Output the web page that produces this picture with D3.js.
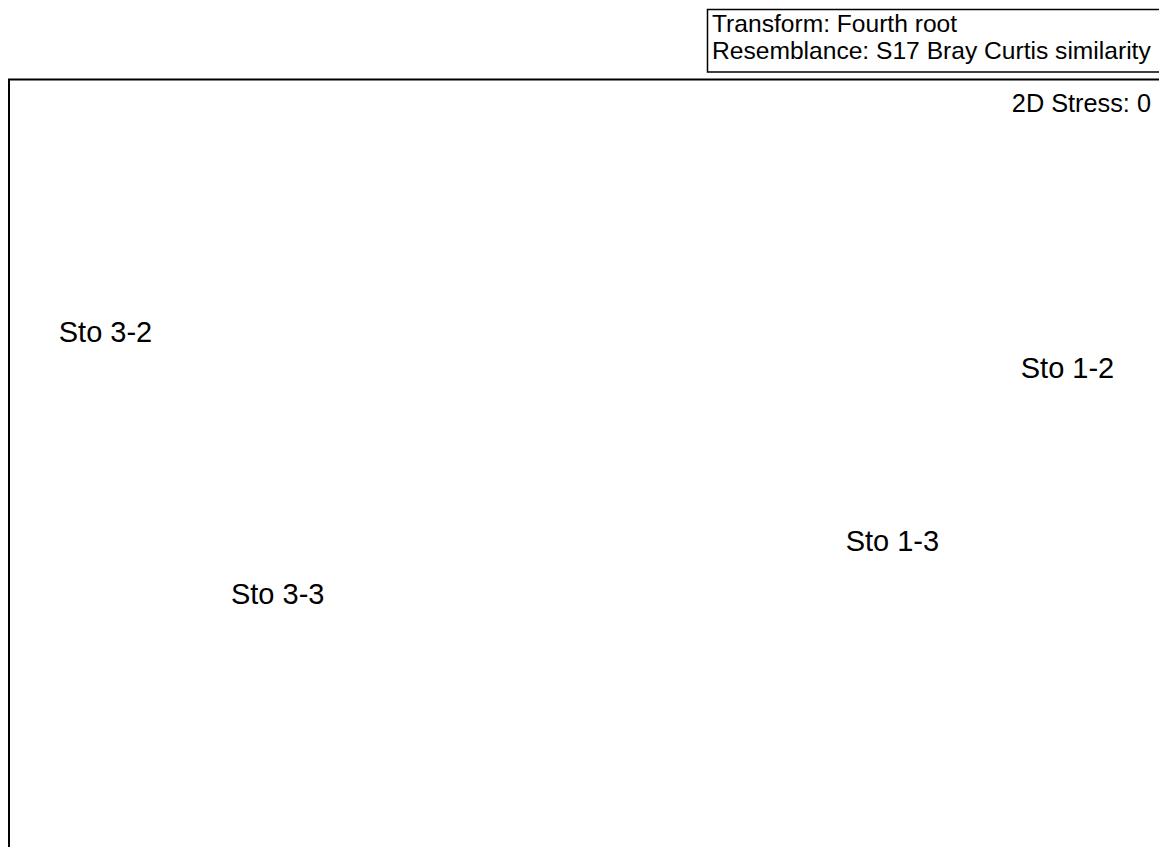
<!DOCTYPE html>
<html>
<head>
<meta charset="utf-8">
<script src="https://cdn.jsdelivr.net/npm/d3@7"></script>
<style>
  html, body { margin: 0; padding: 0; background: #fff; overflow: hidden; }
  svg { display: block; font-family: "Liberation Sans", Arial, sans-serif; }
</style>
</head>
<body>
<svg id="chart" width="1159" height="847"></svg>
<script>
// Sample labels and their 2D MDS coordinates (arbitrary units)
const samples = ["Sto 3-2", "Sto 1-2", "Sto 1-3", "Sto 3-3"];
const mdsX = [-1.00, 1.00, 0.636, -0.642];
const mdsY = [1.00, 0.725, -0.595, -1.00];
const infoLines = ["Transform: Fourth root", "Resemblance: S17 Bray Curtis similarity"];
const stressLabel = "2D Stress: 0";

const svg = d3.select("#chart");

const x = d3.scaleLinear().domain([-1, 1]).range([105.5, 1067.5]);
const y = d3.scaleLinear().domain([-1, 1]).range([594, 332]);

// plot frame (extends beyond the viewport on right and bottom)
svg.append("rect")
  .attr("x", 9).attr("y", 79.5)
  .attr("width", 1300).attr("height", 900)
  .attr("fill", "none").attr("stroke", "#000").attr("stroke-width", 2);

// info box
svg.append("rect")
  .attr("x", 707.5).attr("y", 9.5)
  .attr("width", 500).attr("height", 62.5)
  .attr("fill", "#fff").attr("stroke", "#000").attr("stroke-width", 1.5);

svg.append("g").selectAll("text")
  .data(infoLines).join("text")
  .attr("x", 712)
  .attr("y", (d, i) => 31.5 + i * 27)
  .attr("font-size", 24.6)
  .attr("fill", "#000")
  .text(d => d);

svg.append("text")
  .attr("x", 1151).attr("y", 111.5)
  .attr("text-anchor", "end")
  .attr("font-size", 25.3)
  .attr("fill", "#000")
  .text(stressLabel);

svg.append("g").selectAll("text")
  .data(samples).join("text")
  .attr("x", (d, i) => x(mdsX[i]))
  .attr("y", (d, i) => y(mdsY[i]))
  .attr("dy", "0.36em")
  .attr("text-anchor", "middle")
  .attr("font-size", 29)
  .attr("fill", "#000")
  .text(d => d);
</script>
</body>
</html>
